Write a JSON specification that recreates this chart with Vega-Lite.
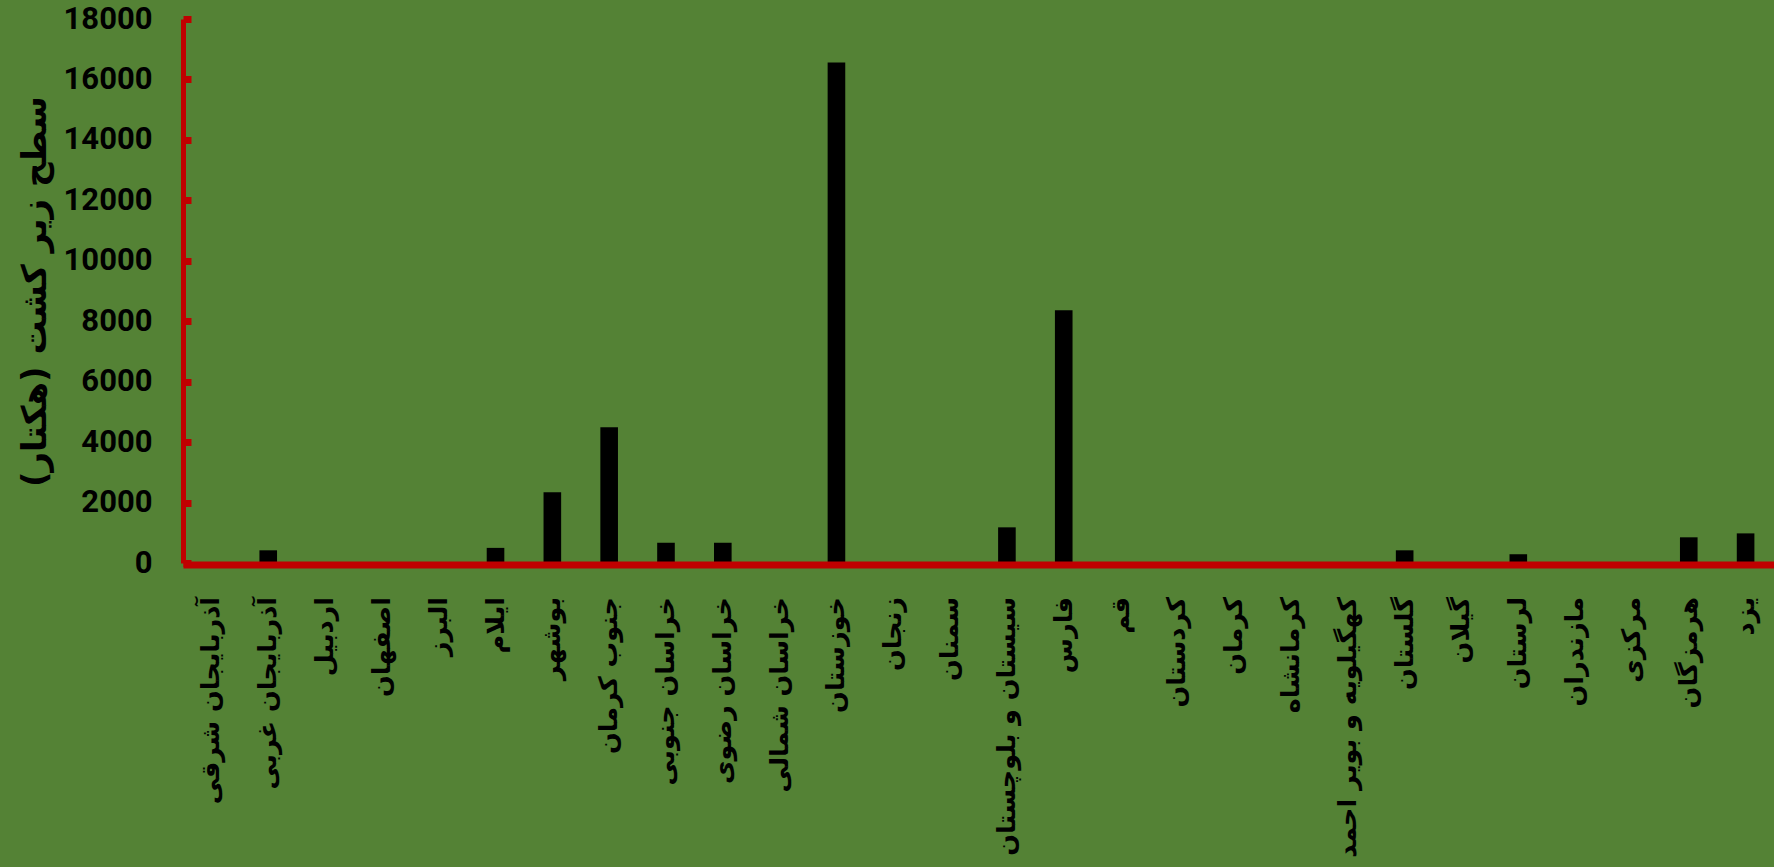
{
  "$schema": "https://vega.github.io/schema/vega-lite/v6.json",
  "width": 1591,
  "height": 544,
  "autosize": {"type": "none"},
  "padding": {"left": 183, "top": 19, "right": 0, "bottom": 304},
  "background": "#548235",
  "config": {"view": {"stroke": null}},
  "data": {
    "values": [
      {"province": "آذربایجان شرقی", "area": 0},
      {"province": "آذربایجان غربی", "area": 420},
      {"province": "اردبیل", "area": 0},
      {"province": "اصفهان", "area": 0},
      {"province": "البرز", "area": 0},
      {"province": "ایلام", "area": 500},
      {"province": "بوشهر", "area": 2340},
      {"province": "جنوب کرمان", "area": 4490},
      {"province": "خراسان جنوبی", "area": 670},
      {"province": "خراسان رضوی", "area": 670},
      {"province": "خراسان شمالی", "area": 0},
      {"province": "خوزستان", "area": 16560},
      {"province": "زنجان", "area": 0},
      {"province": "سمنان", "area": 0},
      {"province": "سیستان و بلوچستان", "area": 1180},
      {"province": "فارس", "area": 8360},
      {"province": "قم", "area": 0},
      {"province": "کردستان", "area": 0},
      {"province": "کرمان", "area": 0},
      {"province": "کرمانشاه", "area": 0},
      {"province": "کهگیلویه و بویر احمد", "area": 0},
      {"province": "گلستان", "area": 420},
      {"province": "گیلان", "area": 0},
      {"province": "لرستان", "area": 290},
      {"province": "مازندران", "area": 0},
      {"province": "مرکزی", "area": 0},
      {"province": "هرمزگان", "area": 850},
      {"province": "یزد", "area": 980}
    ]
  },
  "mark": {"type": "bar", "color": "#000000"},
  "encoding": {
    "x": {
      "field": "province",
      "type": "nominal",
      "sort": null,
      "scale": {"paddingInner": 0.69, "paddingOuter": 0.345},
      "axis": {
        "title": null,
        "zindex": 1,
        "offset": 1.5,
        "ticks": false,
        "domainColor": "#C00000",
        "domainWidth": 7,
        "labelAngle": -90,
        "labelAlign": "right",
        "labelBaseline": "middle",
        "labelFont": "DejaVu Sans",
        "labelFontWeight": "bold",
        "labelFontSize": 25.5,
        "labelColor": "#000000",
        "labelPadding": 32,
        "labelLimit": 0,
        "labelOverlap": false
      }
    },
    "y": {
      "field": "area",
      "type": "quantitative",
      "scale": {"domain": [0, 18000], "nice": false},
      "axis": {
        "values": [0, 2000, 4000, 6000, 8000, 10000, 12000, 14000, 16000, 18000],
        "format": "d",
        "grid": false,
        "zindex": 1,
        "domainColor": "#C00000",
        "domainWidth": 5,
        "tickColor": "#C00000",
        "tickWidth": 7,
        "tickSize": -8,
        "labelFont": "Roboto",
        "labelFontWeight": "bold",
        "labelFontSize": 31,
        "labelColor": "#000000",
        "labelPadding": 39,
        "labelBaseline": "middle",
        "title": "سطح زیر کشت (هکتار)",
        "titleFont": "DejaVu Sans",
        "titleFontWeight": "bold",
        "titleFontSize": 34,
        "titleColor": "#000000",
        "titleAngle": -90,
        "titleAlign": "center",
        "titleBaseline": "middle",
        "titleX": -148,
        "titleY": 272
      }
    }
  }
}
